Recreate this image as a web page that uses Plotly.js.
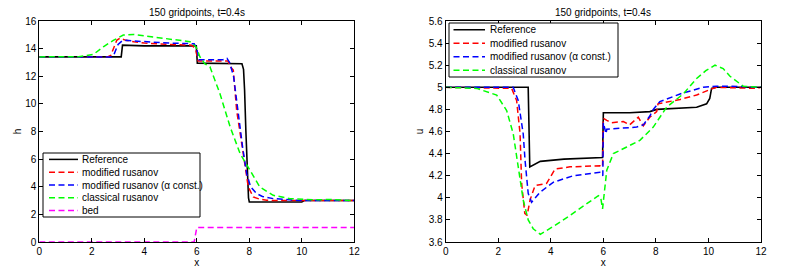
<!DOCTYPE html>
<html><head><meta charset="utf-8">
<script src="https://cdn.plot.ly/plotly-3.0.1.min.js"></script>
<style>html,body{margin:0;padding:0;background:#fff}#c{width:795px;height:268px}</style>
</head><body><div id="c"></div>
<script>
// ---- Left panel: water height h ----
const hRefX = [0, 3.12, 3.17, 4, 5, 5.98, 6.02, 7.0, 7.65, 7.72, 7.78, 7.82, 7.87, 7.92, 7.97, 8.0, 10.0, 10.1, 12];
const hRefY = [13.4, 13.4, 14.25, 14.2, 14.2, 14.2, 12.95, 12.95, 12.95, 12.9, 12.5, 11, 8, 5, 3.2, 2.9, 2.9, 3.0, 3.0];
const hModX = [0, 2.6, 2.72, 2.85, 2.95, 3.07, 3.3, 3.6, 4, 5, 5.8, 5.95, 6.05, 6.5, 7.0, 7.19, 7.27, 7.39, 7.52, 7.62, 7.77, 7.96, 8.15, 8.4, 8.66, 9.2, 10, 12];
const hModY = [13.4, 13.4, 13.5, 14.2, 14.6, 14.75, 14.6, 14.5, 14.4, 14.3, 14.25, 14.0, 13.1, 13.1, 13.1, 13.1, 12.7, 12.44, 9.5, 8.33, 6.4, 3.99, 3.26, 3.1, 3.02, 3.0, 3.0, 3.0];
const hModCX = [0, 2.75, 2.85, 3.0, 3.15, 3.3, 3.6, 4, 5, 5.9, 6.0, 6.08, 6.5, 7.0, 7.15, 7.25, 7.4, 7.6, 7.75, 7.9, 8.05, 8.28, 8.5, 8.91, 9.5, 10, 12];
const hModCY = [13.4, 13.4, 13.6, 14.3, 14.55, 14.6, 14.55, 14.5, 14.4, 14.35, 14.0, 13.2, 13.2, 13.2, 13.3, 13.0, 12.0, 9.0, 6.8, 4.95, 4.0, 3.5, 3.3, 3.14, 3.05, 3.0, 3.0];
const hClsX = [0, 1.5, 2.06, 2.44, 2.82, 3.2, 3.58, 4.47, 5.74, 5.97, 6.12, 6.31, 6.5, 6.88, 7.27, 7.65, 8.03, 8.4, 8.91, 9.55, 10.5, 11, 12];
const hClsY = [13.4, 13.42, 13.58, 14.13, 14.6, 14.98, 15.03, 14.81, 14.5, 14.13, 13.4, 12.9, 12.68, 10.75, 8.33, 6.4, 5.2, 3.99, 3.38, 3.14, 3.05, 3.08, 3.0];
const bedX = [0, 5.9, 6.0, 12];
const bedY = [0, 0, 1.05, 1.05];

// ---- Right panel: velocity u ----
const uRefX = [0, 3.14, 3.2, 3.6, 4.5, 5.97, 6.0, 7.0, 7.77, 8.03, 9.55, 9.93, 10.05, 10.12, 10.3, 12];
const uRefY = [5.0, 5.0, 4.28, 4.33, 4.35, 4.365, 4.77, 4.77, 4.78, 4.8, 4.82, 4.85, 4.9, 4.99, 5.0, 5.0];
const uModX = [0, 2.51, 2.7, 2.83, 2.89, 3.01, 3.1, 3.21, 3.4, 3.84, 4.16, 4.73, 5.87, 5.97, 6.0, 6.13, 6.32, 6.76, 7.0, 7.2, 7.33, 7.52, 7.77, 8.03, 8.08, 8.92, 9.55, 10.06, 10.3, 11.83, 12];
const uModY = [5.0, 4.99, 4.88, 4.58, 4.13, 3.86, 3.84, 3.98, 4.11, 4.13, 4.26, 4.28, 4.29, 4.28, 4.72, 4.70, 4.68, 4.69, 4.66, 4.70, 4.73, 4.65, 4.73, 4.78, 4.85, 4.89, 4.93, 4.98, 5.0, 4.99, 5.0];
const uModCX = [0, 2.57, 2.76, 2.95, 3.02, 3.14, 3.27, 3.59, 4.09, 4.86, 5.87, 5.98, 6.0, 6.05, 6.1, 6.13, 6.64, 7.27, 7.52, 7.77, 7.9, 8.15, 8.92, 9.8, 10.3, 10.8, 12];
const uModCY = [5.0, 5.0, 4.88, 4.58, 4.34, 4.04, 3.96, 4.05, 4.14, 4.2, 4.23, 4.2, 4.68, 4.62, 4.58, 4.62, 4.63, 4.64, 4.66, 4.74, 4.8, 4.87, 4.94, 5.0, 5.01, 5.01, 5.0];
const uClsX = [0, 1.18, 1.94, 2.32, 2.57, 2.76, 2.95, 3.14, 3.33, 3.6, 4.09, 4.73, 5.37, 5.81, 5.9, 5.97, 6.13, 6.38, 6.89, 7.39, 7.9, 8.41, 9.04, 9.55, 9.9, 10.25, 10.56, 10.82, 11.32, 12];
const uClsY = [5.0, 4.99, 4.93, 4.79, 4.58, 4.28, 3.98, 3.8, 3.72, 3.67, 3.74, 3.84, 3.95, 4.02, 4.0, 3.9, 4.25, 4.4, 4.46, 4.52, 4.64, 4.82, 4.94, 5.08, 5.15, 5.2, 5.17, 5.1, 5.01, 5.0];

const labels = ['Reference', 'modified rusanov', 'modified rusanov (\u03B1 const.)', 'classical rusanov', 'bed'];
const colors = ['#000000', '#ff0000', '#0000ff', '#00ff00', '#ff00ff'];
const titleText = '150 gridpoints, t=0.4s';
const xTicks = [0, 2, 4, 6, 8, 10, 12];
const hTicks = [0, 2, 4, 6, 8, 10, 12, 14, 16];
const uTicks = [3.6, 3.8, 4, 4.2, 4.4, 4.6, 4.8, 5, 5.2, 5.4, 5.6];

const DASH = '6px,3.5px';
function dashOf(i) { return i === 0 ? 'solid' : DASH; }
function tr(x, y, i, xa, ya) {
  return {x: x, y: y, name: labels[i], type: 'scatter', mode: 'lines', xaxis: xa, yaxis: ya, showlegend: false,
    line: {color: colors[i], width: i === 0 ? 1.6 : 1.5, dash: dashOf(i)}};
}
const data = [
  tr(hRefX, hRefY, 0, 'x', 'y'),
  tr(hModX, hModY, 1, 'x', 'y'),
  tr(hModCX, hModCY, 2, 'x', 'y'),
  tr(hClsX, hClsY, 3, 'x', 'y'),
  tr(bedX, bedY, 4, 'x', 'y'),
  tr(uRefX, uRefY, 0, 'x2', 'y2'),
  tr(uModX, uModY, 1, 'x2', 'y2'),
  tr(uModCX, uModCY, 2, 'x2', 'y2'),
  tr(uClsX, uClsY, 3, 'x2', 'y2')
];

const FAM = 'Liberation Sans, Arial, sans-serif';
const font = {family: FAM, size: 10, color: '#000'};
const W = 795, H = 268, MT = 21, MB = 26;
const PH = H - MT - MB;
const px = v => v / W;
const py = v => (H - MB - v) / PH;

function xax(dom, anchor) {
  return {domain: dom, anchor: anchor, range: [0, 12], tickvals: xTicks, ticktext: xTicks.map(String),
    ticks: 'inside', ticklen: 4, tickcolor: '#000', mirror: 'ticks', showline: true, linecolor: '#000', linewidth: 1,
    showgrid: false, zeroline: false, tickfont: font,
    title: {text: 'x', font: font, standoff: 0}};
}
function yax(range, ticks, anchor, title, standoff) {
  return {domain: [0, 1], anchor: anchor, range: range, tickvals: ticks, ticktext: ticks.map(String),
    ticks: 'inside', ticklen: 4, tickcolor: '#000', mirror: 'ticks', showline: true, linecolor: '#000', linewidth: 1,
    showgrid: false, zeroline: false, tickfont: font,
    title: {text: title, font: font, standoff: standoff}};
}

// custom MATLAB-like legends (box, sample lines, text)
const shapes = [];
const annotations = [];
function legendBox(x0, x1, y0, y1, n, sx0, sx1, tx) {
  shapes.push({type: 'rect', xref: 'paper', yref: 'paper', x0: px(x0), x1: px(x1), y0: py(y1), y1: py(y0),
    fillcolor: '#fff', line: {color: '#000', width: 1}, layer: 'above'});
  const step = (y1 - y0) / n;
  for (let i = 0; i < n; i++) {
    const yc = y0 + step * (i + 0.5);
    shapes.push({type: 'line', xref: 'paper', yref: 'paper', x0: px(sx0), x1: px(sx1), y0: py(yc), y1: py(yc),
      line: {color: colors[i], width: 1.5, dash: dashOf(i)}, layer: 'above'});
    annotations.push({text: labels[i], xref: 'paper', yref: 'paper', x: px(tx), y: py(yc),
      xanchor: 'left', yanchor: 'middle', showarrow: false, font: font});
  }
}
legendBox(43, 200, 153, 217, 5, 49, 78, 79.5);
legendBox(449, 618, 23, 77, 4, 453.5, 485, 487.5);

const titleFont = {family: FAM, size: 10, color: '#000'};
annotations.push({text: titleText, x: px((39.3 + 354.3) / 2), y: py(12.5), xref: 'paper', yref: 'paper', xanchor: 'center', yanchor: 'middle', showarrow: false, font: titleFont});
annotations.push({text: titleText, x: px((445.7 + 761) / 2), y: py(12.5), xref: 'paper', yref: 'paper', xanchor: 'center', yanchor: 'middle', showarrow: false, font: titleFont});

const layout = {
  width: W, height: H,
  margin: {l: 0, r: 0, t: MT, b: MB},
  paper_bgcolor: '#fff', plot_bgcolor: '#fff',
  font: font,
  showlegend: false,
  xaxis: xax([39.3 / W, 354.3 / W], 'y'),
  yaxis: yax([0, 16], hTicks, 'x', 'h', 1),
  xaxis2: xax([445.7 / W, 761 / W], 'y2'),
  yaxis2: yax([3.6, 5.6], uTicks, 'x2', 'u', 3),
  shapes: shapes,
  annotations: annotations
};
Plotly.newPlot('c', data, layout, {displayModeBar: false, staticPlot: true});
</script></body></html>
